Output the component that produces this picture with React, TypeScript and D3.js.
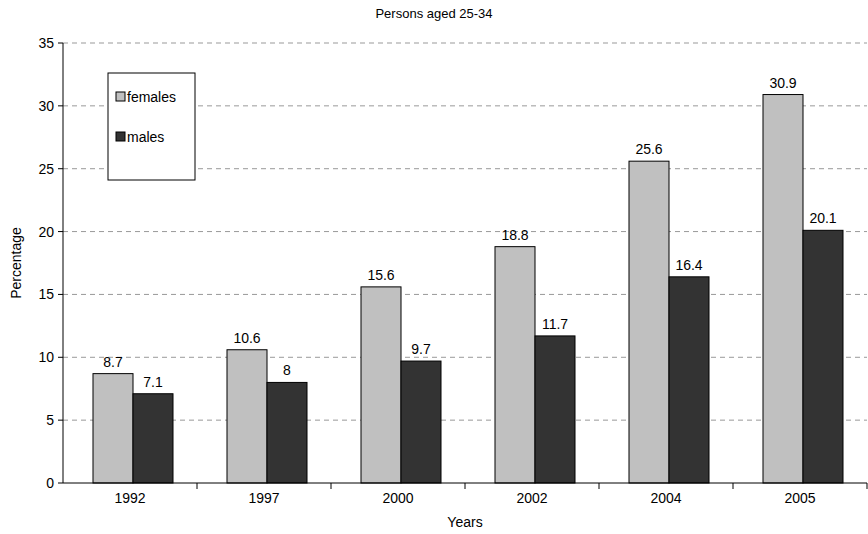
import React from 'react';
import * as d3 from 'd3';

const years = ['1992', '1997', '2000', '2002', '2004', '2005'];
const females = [8.7, 10.6, 15.6, 18.8, 25.6, 30.9];
const males = [7.1, 8, 9.7, 11.7, 16.4, 20.1];
const yTicks = [0, 5, 10, 15, 20, 25, 30, 35];

const W = 868;
const H = 534;
const left = 63;
const right = 867;
const top = 43;
const bottom = 483;

const App: React.FC = () => {
  const x = d3.scaleBand<string>().domain(years).range([left, left + 134 * 6]);
  const y = d3.scaleLinear().domain([0, 35]).range([bottom, top]);
  const bw = 40;
  const font = 'Arial, "Liberation Sans", sans-serif';

  return (
    <svg width={W} height={H} style={{ position: 'absolute', left: 0, top: 0 }} fontFamily={font}>
      <rect width={W} height={H} fill="#fff" />
      <text x={434} y={18} textAnchor="middle" fontSize={13}>Persons aged 25-34</text>
      {yTicks.map((t) => (
        <g key={t}>
          {t > 0 && (
            <line x1={left} x2={right} y1={y(t)} y2={y(t)} stroke="#999" strokeDasharray="5,4" />
          )}
          <line x1={left - 5} x2={left} y1={y(t)} y2={y(t)} stroke="#000" />
          <text x={left - 9} y={y(t) + 5} textAnchor="end" fontSize={14}>{t}</text>
        </g>
      ))}
      {years.map((yr, i) => {
        const x0 = x(yr)!;
        const fx = x0 + 30;
        const mx = fx + bw;
        return (
          <g key={yr}>
            <rect x={fx} y={y(females[i])} width={bw} height={bottom - y(females[i])} fill="#c0c0c0" stroke="#000" />
            <rect x={mx} y={y(males[i])} width={bw} height={bottom - y(males[i])} fill="#333333" stroke="#000" />
            <text x={fx + bw / 2} y={y(females[i]) - 7} textAnchor="middle" fontSize={14}>{females[i]}</text>
            <text x={mx + bw / 2} y={y(males[i]) - 7} textAnchor="middle" fontSize={14}>{males[i]}</text>
            <text x={x0 + 67} y={bottom + 20} textAnchor="middle" fontSize={14}>{yr}</text>
            <line x1={x0 + 134} x2={x0 + 134} y1={bottom} y2={bottom + 6} stroke="#000" />
          </g>
        );
      })}
      <line x1={left} x2={left} y1={top} y2={bottom} stroke="#000" />
      <line x1={left} x2={right} y1={bottom} y2={bottom} stroke="#000" />
      <text x={465} y={527} textAnchor="middle" fontSize={14}>Years</text>
      <text transform={`translate(21,${(top + bottom) / 2}) rotate(-90)`} textAnchor="middle" fontSize={14}>Percentage</text>
      <rect x={108} y={73} width={87} height={107} fill="#fff" stroke="#000" />
      <rect x={116} y={92} width={9} height={9} fill="#c0c0c0" stroke="#000" />
      <text x={127} y={102} fontSize={14}>females</text>
      <rect x={116} y={132} width={9} height={9} fill="#333333" stroke="#000" />
      <text x={127} y={142} fontSize={14}>males</text>
    </svg>
  );
};

export default App;
